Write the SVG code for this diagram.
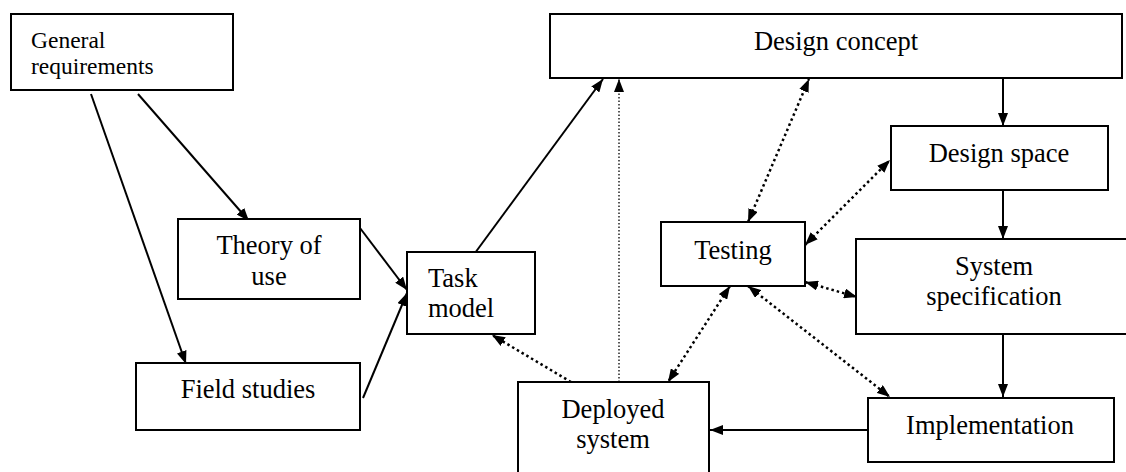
<svg xmlns="http://www.w3.org/2000/svg" width="1126" height="472" viewBox="0 0 1126 472">
<style>
.box{fill:#fff;stroke:#000;stroke-width:2}
text{font-family:"Liberation Serif","Times New Roman",serif;font-size:26.5px;fill:#000}
.c{text-anchor:middle}
.sm{font-size:23.5px}
.ln{fill:none;stroke:#000;stroke-width:2}
.dot{fill:none;stroke:#000;stroke-width:2.5;stroke-dasharray:2.5 3}
.thin{fill:none;stroke:#000;stroke-width:1.3;stroke-dasharray:1.5 2}
</style>
<defs>
<marker id="ah" markerUnits="userSpaceOnUse" markerWidth="14" markerHeight="10" refX="13" refY="5" orient="auto-start-reverse" viewBox="0 0 14 10">
<path d="M0,0 L13,5 L0,10 z" fill="#000"/>
</marker>
</defs>
<rect width="1126" height="472" fill="#fff"/>
<g id="connectors">
<line class="ln" x1="138" y1="94" x2="249" y2="221" marker-end="url(#ah)"/>
<line class="ln" x1="91" y1="94" x2="186" y2="364" marker-end="url(#ah)"/>
<line class="ln" x1="360" y1="228" x2="407" y2="290" marker-end="url(#ah)"/>
<line class="ln" x1="363" y1="398" x2="407" y2="293" marker-end="url(#ah)"/>
<line class="ln" x1="475" y1="253" x2="603" y2="79" marker-end="url(#ah)"/>
<line class="thin" x1="619" y1="382" x2="619" y2="79" marker-end="url(#ah)"/>
<line class="dot" x1="571" y1="382" x2="492" y2="335" marker-end="url(#ah)"/>
<line class="dot" x1="748" y1="222" x2="809" y2="79" marker-start="url(#ah)" marker-end="url(#ah)"/>
<line class="dot" x1="805" y1="245" x2="890" y2="160" marker-start="url(#ah)" marker-end="url(#ah)"/>
<line class="dot" x1="805" y1="282" x2="857" y2="297" marker-start="url(#ah)" marker-end="url(#ah)"/>
<line class="dot" x1="730" y1="286" x2="668" y2="382" marker-start="url(#ah)" marker-end="url(#ah)"/>
<line class="dot" x1="748" y1="286" x2="890" y2="397" marker-start="url(#ah)" marker-end="url(#ah)"/>
<line class="ln" x1="1003" y1="78" x2="1003" y2="126" marker-end="url(#ah)"/>
<line class="ln" x1="1003" y1="190" x2="1003" y2="239" marker-end="url(#ah)"/>
<line class="ln" x1="1003" y1="334" x2="1003" y2="397" marker-end="url(#ah)"/>
<line class="ln" x1="868" y1="430" x2="710" y2="430" marker-end="url(#ah)"/>
</g>
<g id="general-requirements">
<rect class="box" x="11" y="14" width="222" height="76"/>
<text class="sm" x="31" y="48">General</text>
<text class="sm" x="31" y="74">requirements</text>
</g>
<g id="design-concept">
<rect class="box" x="550" y="14" width="572" height="64"/>
<text class="c" x="836" y="50">Design concept</text>
</g>
<g id="design-space">
<rect class="box" x="891" y="126" width="217" height="64"/>
<text class="c" x="999" y="162">Design space</text>
</g>
<g id="theory-of-use">
<rect class="box" x="178" y="219" width="182" height="80"/>
<text class="c" x="269" y="254">Theory of</text>
<text class="c" x="269" y="285">use</text>
</g>
<g id="task-model">
<rect class="box" x="407" y="252" width="128" height="82"/>
<text x="428" y="287">Task</text>
<text x="428" y="317">model</text>
</g>
<g id="testing">
<rect class="box" x="661" y="222" width="144" height="64"/>
<text class="c" x="733" y="259">Testing</text>
</g>
<g id="system-specification">
<rect class="box" x="856" y="239" width="280" height="95"/>
<text class="c" x="994" y="275">System</text>
<text class="c" x="994" y="305">specification</text>
</g>
<g id="field-studies">
<rect class="box" x="136" y="363" width="224" height="67"/>
<text class="c" x="248" y="398">Field studies</text>
</g>
<g id="deployed-system">
<rect class="box" x="518" y="382" width="191" height="100"/>
<text class="c" x="613" y="418">Deployed</text>
<text class="c" x="613" y="448">system</text>
</g>
<g id="implementation">
<rect class="box" x="868" y="398" width="246" height="64"/>
<text class="c" x="990" y="434">Implementation</text>
</g>
</svg>
